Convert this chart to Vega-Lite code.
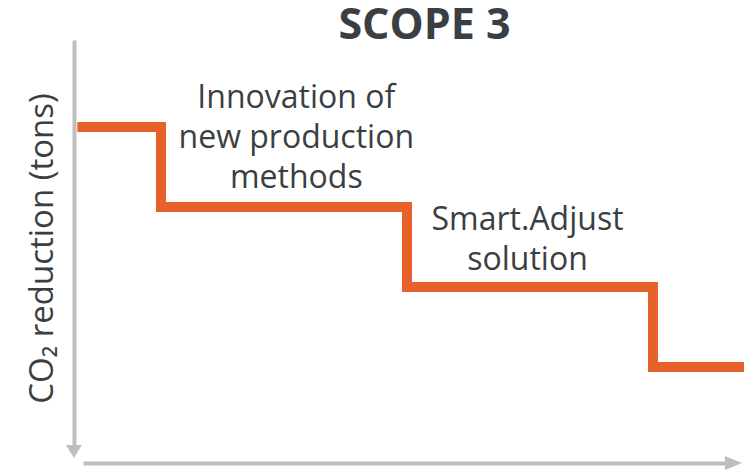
{
  "$schema": "https://vega.github.io/schema/vega-lite/v6.json",
  "width": 647,
  "height": 405,
  "autosize": {"type": "none"},
  "padding": {"left": 83, "top": 40, "right": 24, "bottom": 25},
  "background": "white",
  "title": {"text": "SCOPE 3", "font": "Open Sans", "fontSize": 43, "fontWeight": "bold", "color": "#3A3F44", "anchor": "middle", "frame": "group", "baseline": "alphabetic", "offset": -42, "dx": 18},
  "config": {"view": {"stroke": null}},
  "datasets": {
    "steps": [
      {"stage": 0.66, "level": 1},
      {"stage": 1, "level": 2},
      {"stage": 2, "level": 3},
      {"stage": 3, "level": 4},
      {"stage": 3.37, "level": 4}
    ],
    "labels": [
      {"stage": 1.55, "level": 0.7625, "label": "Innovation of\nnew production\nmethods"},
      {"stage": 2.49, "level": 2.29, "label": "Smart.Adjust\nsolution"}
    ],
    "arrows": [
      {"dir": "down"}
    ]
  },
  "layer": [
    {
      "data": {"name": "steps"},
      "mark": {"type": "line", "interpolate": "step-after", "strokeWidth": 10, "color": "#E8602A", "strokeCap": "butt", "strokeJoin": "miter"},
      "encoding": {
        "x": {"field": "stage", "type": "quantitative", "scale": {"domain": [0.683, 3.313], "nice": false, "zero": false},
          "axis": {"orient": "bottom", "offset": 18, "domain": true, "domainColor": "#BEBEC0", "domainWidth": 4, "ticks": false, "labels": false, "grid": false, "title": null}},
        "y": {"field": "level", "type": "quantitative", "scale": {"domain": [-0.0875, 4.975], "nice": false, "zero": false, "reverse": true},
          "axis": {"orient": "left", "offset": 9, "domain": true, "domainColor": "#BEBEC0", "domainWidth": 4, "ticks": false, "labels": false, "grid": false,
            "title": "CO₂ reduction (tons)", "titleFont": "Open Sans", "titleFontSize": 33, "titleFontWeight": "normal", "titleColor": "#3A3F44",
            "titleAngle": 270, "titleAlign": "center", "titleBaseline": "alphabetic", "titleX": -22, "titleY": 208}}
      }
    },
    {
      "data": {"name": "labels"},
      "mark": {"type": "text", "font": "Open Sans", "fontSize": 32, "color": "#3A3F44", "align": "center", "baseline": "alphabetic", "lineBreak": "\n", "lineHeight": 40},
      "encoding": {
        "x": {"field": "stage", "type": "quantitative"},
        "y": {"field": "level", "type": "quantitative"},
        "text": {"field": "label"}
      }
    },
    {
      "data": {"name": "arrows"},
      "mark": {"type": "point", "shape": "M-1,-0.8L1,-0.8L0,0.8Z", "filled": true, "color": "#BEBEC0", "opacity": 1, "size": 256},
      "encoding": {"x": {"datum": 0.646}, "y": {"datum": 5.056}}
    },
    {
      "data": {"name": "arrows"},
      "mark": {"type": "point", "shape": "M-1,-0.82L1,0L-1,0.82Z", "filled": true, "color": "#BEBEC0", "opacity": 1, "size": 289},
      "encoding": {"x": {"datum": 3.327}, "y": {"datum": 5.2}}
    }
  ]
}
